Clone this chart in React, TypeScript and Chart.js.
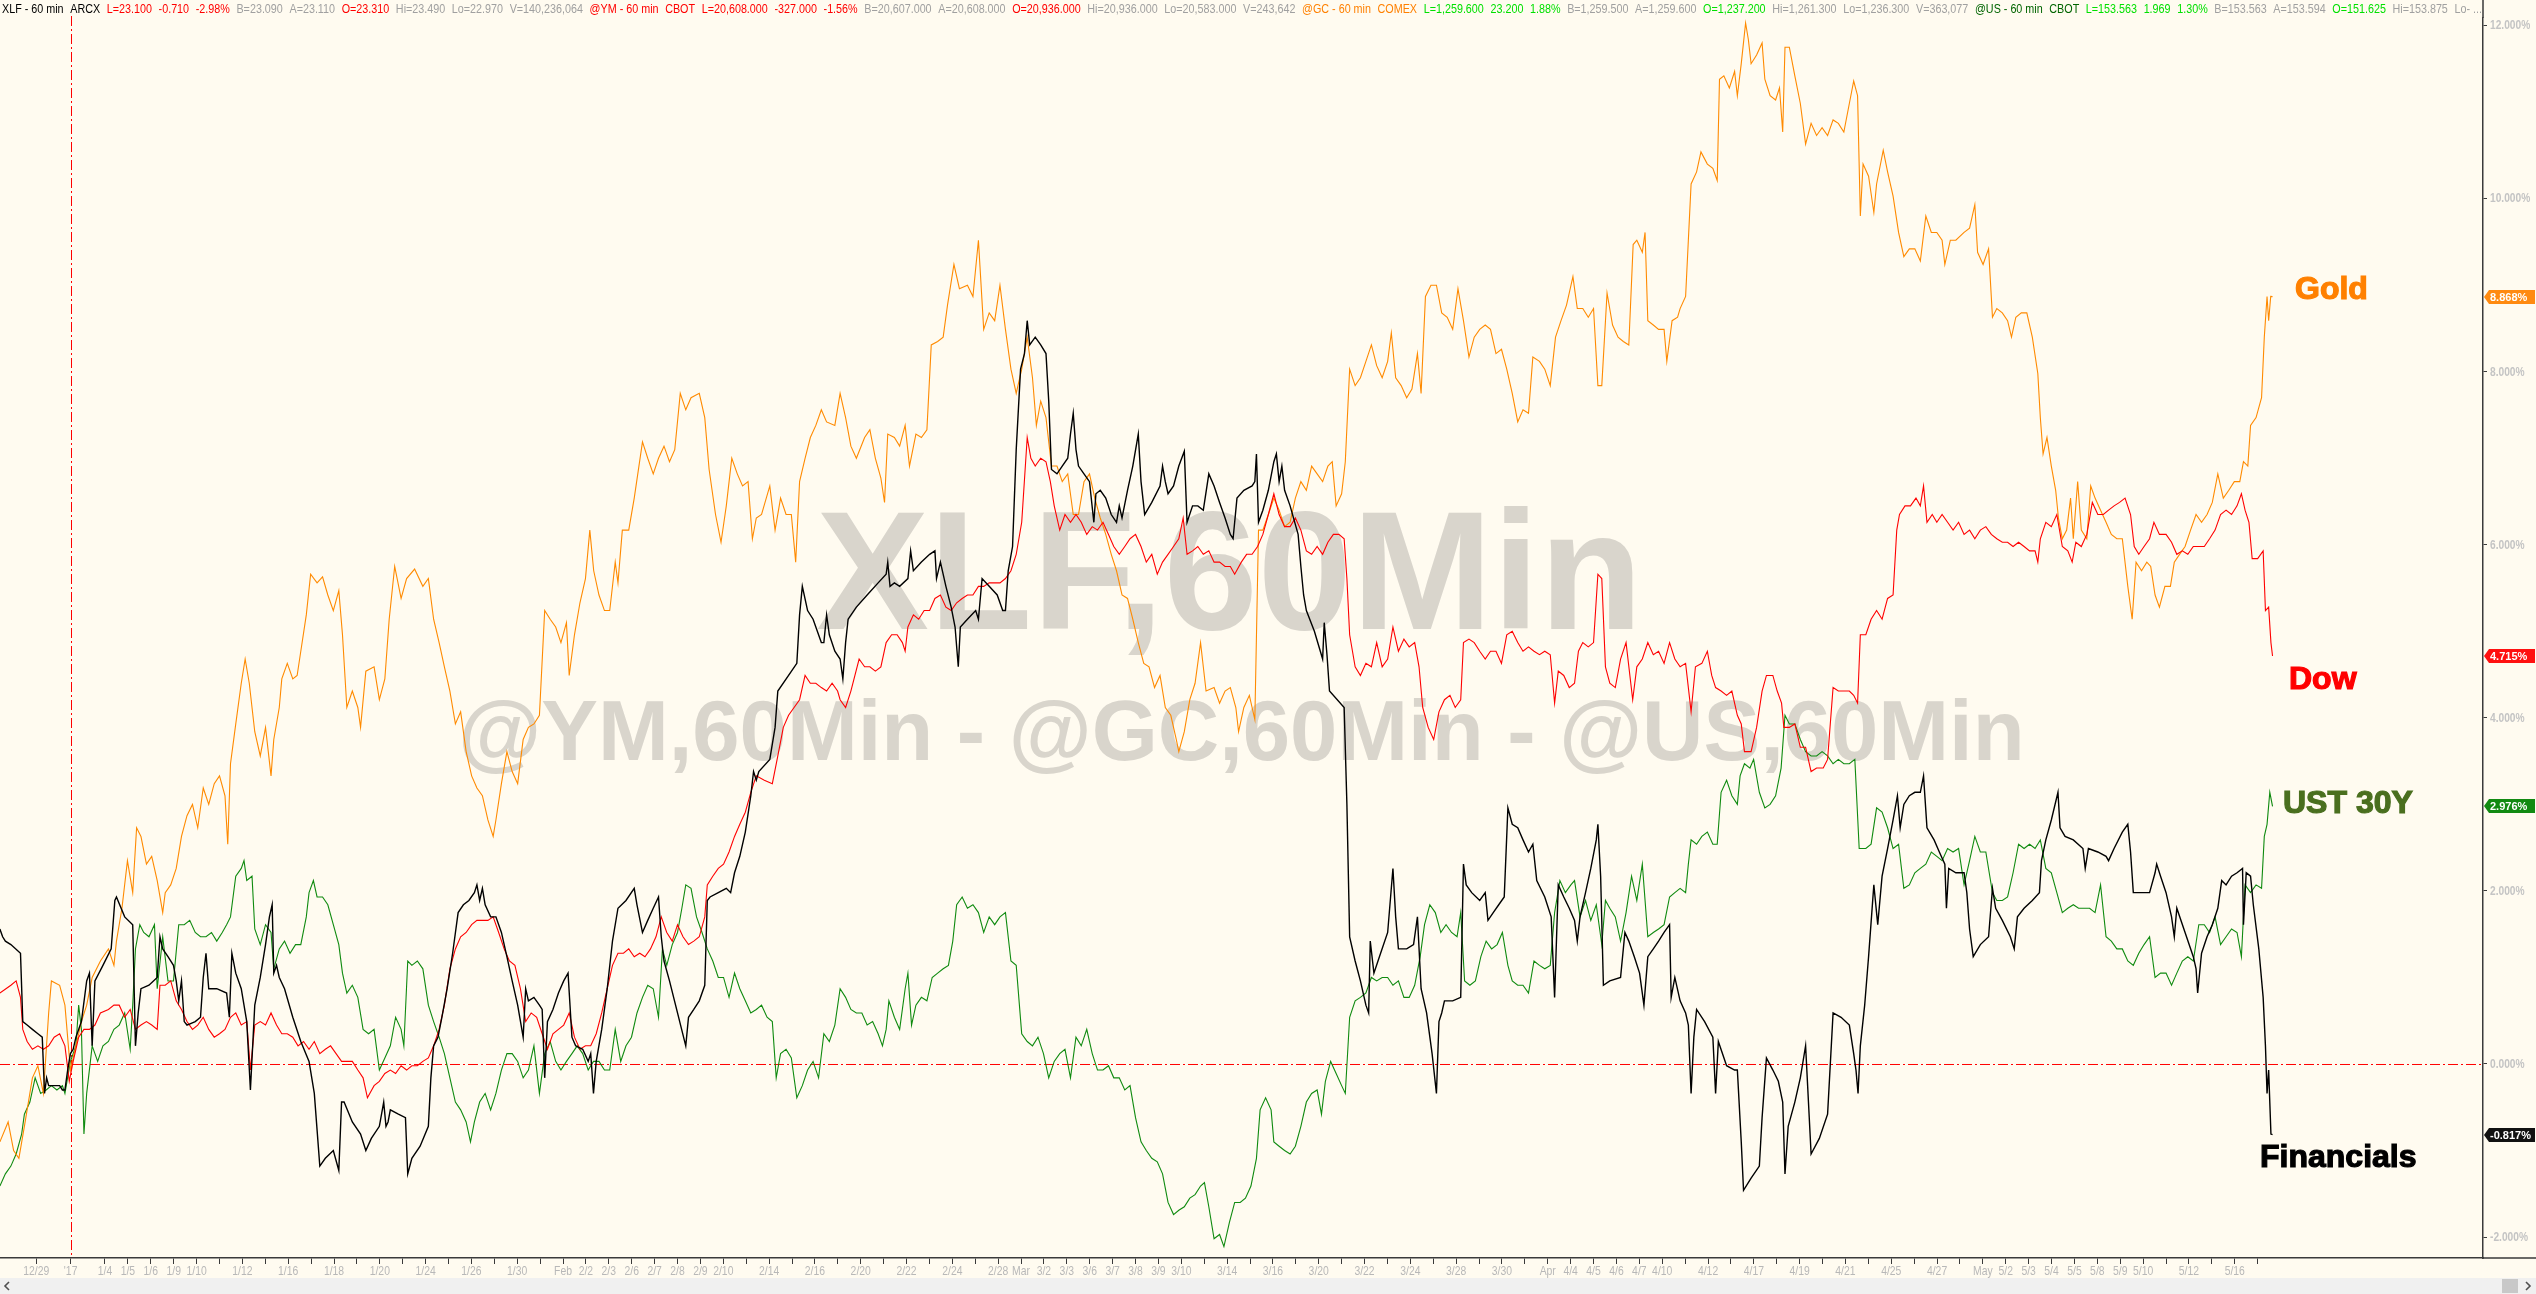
import React, { useEffect, useRef } from "react";
import { Chart, registerables } from "chart.js";
Chart.register(...registerables);

const W = 2536;
const H = 1294;

// ---- Data: x = trading-day index (0 = 2017-01-04), y = % change ----
const xlfT = [-4.59,-4.47,-4.35,-4.11,-3.69,-3.59,-3.40,-3.17,-2.93,-2.74,-2.64,-2.55,-2.46,-2.22,-1.98,-1.86,-1.75,-1.63,-1.51,-1.39,-1.27,-1.03,-0.80,-0.68,-0.56,-0.44,-0.09,0.27,0.43,0.50,0.86,1.21,1.33,1.45,1.57,1.92,2.28,2.40,2.52,2.75,2.99,3.11,3.22,3.34,3.46,3.58,3.94,4.17,4.29,4.41,4.53,4.88,5.31,5.43,5.54,5.71,5.95,6.19,6.35,6.54,6.78,7.01,7.18,7.30,7.37,7.49,7.61,7.84,8.20,8.55,8.91,9.14,9.38,9.62,9.97,10.21,10.33,10.44,10.80,11.16,11.39,11.63,11.98,12.17,12.27,12.36,12.46,12.81,13.12,13.22,13.40,13.76,14.12,14.23,14.35,14.54,14.71,14.94,15.18,15.42,15.65,15.89,16.13,16.24,16.36,16.48,16.60,16.84,17.07,17.31,17.55,17.78,18.02,18.26,18.37,18.49,18.73,18.97,19.09,19.20,19.32,19.56,19.80,20.03,20.22,20.39,20.55,20.86,21.10,21.21,21.33,21.45,21.69,21.93,22.16,22.40,22.75,23.11,23.23,23.47,23.70,23.94,24.17,24.29,24.41,24.65,25.00,25.36,25.48,25.71,25.95,26.19,26.30,26.42,26.78,27.13,27.32,27.49,27.72,27.96,28.20,28.32,28.44,28.55,29.03,29.26,29.38,29.85,30.21,30.33,30.45,30.68,30.92,31.28,31.39,31.51,31.63,31.87,
32.10,32.22,32.34,32.45,32.81,33.28,33.76,34.11,34.18,34.28,34.47,34.70,35.06,35.18,35.30,35.65,36.01,36.24,36.31,36.48,36.72,36.95,37.12,37.26,37.35,37.66,38.02,38.14,38.30,38.61,38.96,39.20,39.32,39.44,39.63,39.79,39.98,40.15,40.27,40.38,40.62,40.86,41.09,41.21,41.33,41.57,41.80,42.04,42.16,42.28,42.40,42.51,42.75,42.99,43.18,43.27,43.46,43.70,43.94,44.17,44.29,44.41,44.65,44.88,45.12,45.24,45.40,45.71,46.07,46.18,46.30,46.42,46.66,46.89,47.13,47.25,47.49,47.72,47.96,48.20,48.43,48.67,48.91,49.14,49.26,49.43,49.73,50.09,50.21,50.28,50.37,50.56,50.80,51.04,51.15,51.27,51.39,51.51,51.75,52.10,52.22,52.34,52.46,52.81,53.17,53.24,53.36,53.47,54.11,54.23,54.35,54.59,54.82,55.06,55.18,55.25,55.41,55.65,56.01,56.24,56.36,56.48,56.84,57.14,57.31,57.47,57.71,57.95,58.14,58.25,58.37,58.49,58.85,59.20,59.32,59.44,59.68,60.03,60.27,60.39,60.62,60.86,61.10,61.26,61.45,61.69,61.92,62.16,62.35,62.52,62.87,63.15,63.30,63.46,63.70,63.94,64.17,64.29,64.41,64.65,64.88,65.12,65.19,65.31,65.43,65.71,66.18,66.37,66.54,66.78,67.01,67.20,67.37,67.61,67.84,68.08,68.32,68.39,68.55,
68.78,69.02,69.14,69.26,69.38,69.50,69.85,70.21,70.33,70.45,70.81,71.16,71.28,71.45,71.55,71.88,72.24,72.36,72.55,72.83,73.07,73.26,73.36,73.50,73.79,74.03,74.26,74.50,74.86,75.22,75.46,75.81,76.17,76.36,76.46,76.55,76.65,76.84,77.01,77.24,77.41,77.60,77.84,78.08,78.27,78.39,78.55,78.79,79.03,79.27,79.41,79.56,79.87,80.10,80.34,80.41,80.51,80.82,81.18,81.30,81.42,81.58,81.89,82.25,82.42,82.56,82.85,83.20,83.37,83.51,83.80,84.16,84.47,84.56,84.75,84.99,85.28,85.37,85.59,85.95,86.37,86.47,86.61,87.02,87.38,87.49,87.73,88.09,88.33,88.45,88.57,88.93,89.28,89.52,89.59,89.76,90.00,90.24,90.36,90.47,90.83,91.19,91.31,91.38,91.55,91.79,92.02,92.26,92.43,92.62,92.86,93.10,93.34,93.38,93.50,93.69,93.81,94.05,94.24,94.34,94.41,94.48,94.58,94.65];
const xlfV = [1.56,1.47,1.42,1.38,1.28,0.49,0.45,0.40,0.35,0.31,-0.34,-0.16,-0.25,-0.25,-0.25,-0.30,-0.30,-0.07,0.12,0.17,0.31,0.49,0.96,1.05,0.21,0.96,1.14,1.33,1.89,1.93,1.70,1.61,0.21,0.59,0.87,0.91,1.00,1.47,1.33,1.24,1.14,0.96,0.73,0.96,0.49,0.45,0.49,0.54,1.00,1.28,0.87,0.87,0.82,0.54,1.28,1.05,0.87,0.49,-0.30,0.68,1.00,1.38,1.70,1.84,1.05,1.14,1.00,0.87,0.54,0.26,0.03,-0.34,-1.18,-1.09,-1.00,-1.23,-0.44,-0.44,-0.67,-0.81,-1.00,-0.86,-0.72,-0.44,-0.72,-0.67,-0.53,-0.58,-0.62,-1.27,-1.09,-0.95,-0.72,-0.16,0.21,0.31,0.54,0.87,1.28,1.75,1.84,1.89,1.98,2.07,1.89,2.03,1.84,1.70,1.70,1.52,1.24,0.96,0.68,0.31,0.87,0.73,0.77,0.68,0.63,-0.16,0.49,0.63,0.82,0.96,1.05,0.31,0.21,0.17,0.03,0.12,-0.34,0.03,0.40,0.87,1.42,1.80,1.89,2.03,1.84,1.52,1.66,1.80,1.93,1.47,1.19,0.96,0.59,0.21,0.54,0.63,0.73,0.91,1.89,1.93,1.98,2.03,1.98,2.21,2.40,2.68,3.10,3.38,3.28,3.38,3.52,3.89,4.31,4.49,4.63,5.19,5.52,5.24,5.14,4.87,4.87,5.19,4.96,4.77,
4.68,4.45,4.87,5.14,5.28,5.42,5.56,5.66,5.80,5.52,5.56,5.52,5.61,5.93,5.70,5.80,5.89,5.93,5.61,5.80,5.52,5.28,5.05,4.59,5.05,5.14,5.24,5.14,5.61,5.52,5.42,5.24,5.24,5.70,5.98,7.10,8.03,8.21,8.59,8.31,8.40,8.31,8.21,7.66,6.87,6.82,6.91,7.00,7.28,7.52,7.10,6.91,6.82,6.73,6.26,6.59,6.63,6.54,6.35,6.26,6.45,6.31,6.63,6.91,7.28,6.73,6.35,6.49,6.68,6.91,6.73,6.59,6.68,6.91,7.08,6.26,6.45,6.45,6.40,6.82,6.68,6.49,6.31,6.12,6.07,6.54,6.63,6.68,6.73,7.05,6.26,6.40,6.63,6.96,7.05,6.73,6.91,6.63,6.45,6.12,5.75,5.42,5.24,5.00,4.68,5.10,4.73,4.31,4.12,3.00,1.47,1.19,0.96,0.68,0.59,1.42,1.05,1.24,1.52,2.26,1.70,1.33,1.33,1.38,1.70,0.87,0.59,0.12,-0.34,0.49,0.59,0.73,0.73,0.77,2.31,2.07,1.98,1.89,1.98,1.66,1.75,1.84,1.93,2.96,2.77,2.73,2.59,2.45,2.54,2.12,1.93,1.70,0.77,2.07,1.93,1.80,1.66,1.42,1.70,1.98,2.26,2.59,2.77,2.17,0.91,0.96,1.00,1.52,1.42,1.24,1.05,0.68,1.24,1.33,1.42,1.52,1.61,0.77,1.00,
0.73,0.59,0.45,-0.34,0.31,0.63,0.49,0.31,-0.34,0.26,-0.02,-0.07,-0.07,-0.90,-1.46,-1.32,-1.18,-0.62,0.07,-0.07,-0.20,-0.44,-1.27,-0.72,-0.44,-0.16,0.21,-1.04,-0.86,-0.58,0.59,0.54,0.45,0.12,-0.07,-0.34,0.21,0.68,1.24,2.07,1.61,2.17,2.49,2.82,3.10,2.73,3.00,3.10,3.14,3.14,3.33,2.73,2.59,2.45,2.31,1.80,2.26,2.21,2.21,1.98,1.56,1.24,1.38,1.47,2.03,1.80,1.66,1.47,1.33,1.70,1.80,1.89,1.98,2.35,2.59,2.82,3.14,2.73,2.63,2.59,2.49,2.26,2.49,2.45,2.40,2.35,2.49,2.68,2.77,2.45,1.98,1.98,1.98,2.21,2.31,2.17,1.98,1.70,1.47,1.80,1.52,1.24,1.10,0.82,1.28,1.47,1.61,1.80,2.12,2.07,2.17,2.21,2.26,1.61,2.21,2.17,1.84,1.33,0.77,0.21,-0.34,-0.07,-0.81,-0.817];

const dowT = [-4.59,-4.11,-3.88,-3.69,-3.59,-3.40,-3.17,-2.93,-2.69,-2.46,-2.22,-1.98,-1.75,-1.56,-1.39,-1.15,-0.92,-0.68,-0.44,-0.20,0.15,0.39,0.62,0.86,1.10,1.33,1.57,1.81,2.04,2.28,2.40,2.63,2.87,3.11,3.34,3.58,3.82,4.05,4.29,4.53,4.77,5.00,5.24,5.48,5.71,5.95,6.19,6.35,6.54,6.78,7.01,7.25,7.49,7.72,7.96,8.20,8.43,8.67,8.91,9.14,9.38,9.62,9.85,10.09,10.33,10.56,10.80,11.04,11.27,11.46,11.75,11.98,12.22,12.46,12.69,12.93,13.17,13.40,13.64,13.88,14.12,14.35,14.59,14.82,15.06,15.30,15.53,15.77,16.01,16.24,16.48,16.72,16.95,17.19,17.43,17.66,17.90,18.14,18.37,18.61,18.85,19.09,19.32,19.56,19.80,20.03,20.27,20.50,20.74,20.98,21.21,21.45,21.69,21.93,22.16,22.40,22.64,22.87,23.11,23.35,23.58,23.82,24.06,24.29,24.53,24.77,25.00,25.24,25.48,25.71,25.95,26.19,26.30,26.54,26.78,27.01,27.25,27.49,27.72,27.96,28.20,28.44,28.79,29.14,29.38,29.62,29.85,30.09,30.33,30.57,30.80,31.04,31.28,31.51,31.75,31.99,
32.10,32.34,32.57,32.93,33.17,33.40,33.64,33.88,34.11,34.35,34.59,34.82,34.94,35.06,35.30,35.53,35.77,36.01,36.24,36.48,36.72,36.95,37.19,37.43,37.66,37.90,38.14,38.37,38.61,38.85,39.08,39.32,39.56,39.79,40.03,40.27,40.43,40.62,40.86,41.09,41.28,41.45,41.69,41.92,42.16,42.40,42.63,42.87,43.11,43.34,43.58,43.82,44.05,44.29,44.53,44.76,45.00,45.24,45.47,45.71,45.95,46.18,46.42,46.66,46.89,47.08,47.25,47.49,47.72,47.96,48.20,48.43,48.67,48.91,49.14,49.33,49.62,49.85,50.09,50.33,50.56,50.80,51.04,51.27,51.51,51.75,51.98,52.22,52.46,52.69,52.93,53.17,53.40,53.64,53.88,54.11,54.23,54.35,54.59,54.82,55.06,55.30,55.53,55.77,56.01,56.24,56.48,56.72,56.95,57.19,57.38,57.54,57.78,58.02,58.25,58.49,58.73,58.96,59.20,59.32,59.56,59.79,60.03,60.27,60.50,60.74,60.98,61.21,61.45,61.69,61.92,62.16,62.40,62.64,62.87,63.11,63.30,63.46,63.70,63.94,64.17,64.34,64.53,64.77,65.00,65.19,65.36,65.52,65.71,65.95,66.18,66.42,66.71,66.89,67.13,67.37,67.61,67.84,68.08,68.32,68.55,
68.78,69.02,69.26,69.45,69.73,69.97,70.16,70.33,70.57,70.81,71.04,71.28,71.45,71.59,71.88,72.12,72.36,72.55,72.83,73.02,73.21,73.31,73.55,73.79,74.03,74.26,74.50,74.74,75.03,75.22,75.46,75.69,75.93,76.17,76.36,76.53,76.65,76.89,77.12,77.36,77.60,77.84,78.08,78.24,78.36,78.60,78.84,79.08,79.27,79.41,79.56,79.79,79.99,80.22,80.46,80.70,80.94,81.18,81.42,81.65,81.89,82.13,82.37,82.61,82.85,83.08,83.32,83.56,83.80,84.04,84.28,84.40,84.51,84.75,84.99,85.23,85.47,85.71,85.90,86.06,86.30,86.54,86.78,87.02,87.26,87.49,87.73,87.97,88.21,88.45,88.61,88.81,89.04,89.28,89.47,89.71,90.00,90.24,90.47,90.71,90.95,91.19,91.43,91.67,91.90,92.14,92.38,92.62,92.86,93.10,93.29,93.45,93.62,93.76,94.00,94.24,94.34,94.48,94.58,94.65];
const dowV = [0.82,0.91,0.96,0.77,0.40,0.26,0.17,0.21,0.17,0.21,0.31,0.35,0.21,-0.20,0.03,0.31,0.40,0.40,0.45,0.59,0.63,0.68,0.68,0.54,0.63,0.40,0.45,0.49,0.45,0.40,0.91,0.91,0.96,0.73,0.63,0.49,0.40,0.45,0.54,0.40,0.31,0.35,0.40,0.54,0.59,0.45,0.49,-0.07,0.45,0.49,0.45,0.59,0.45,0.35,0.35,0.31,0.21,0.26,0.17,0.26,0.12,0.17,0.21,0.12,0.03,0.03,0.03,-0.07,-0.16,-0.39,-0.25,-0.20,-0.11,-0.07,-0.11,-0.02,-0.07,-0.02,-0.02,0.03,0.07,0.21,0.40,0.68,1.10,1.33,1.47,1.52,1.61,1.66,1.66,1.66,1.70,1.52,1.33,1.19,1.14,0.87,0.49,0.59,0.54,0.35,0.17,0.35,0.40,0.45,0.59,0.31,0.17,0.21,0.21,0.35,0.59,0.87,1.14,1.28,1.28,1.33,1.24,1.28,1.24,1.33,1.47,1.70,1.52,1.42,1.61,1.47,1.38,1.42,1.47,1.70,2.07,2.17,2.26,2.31,2.45,2.63,2.77,2.91,3.14,3.33,3.28,3.24,3.56,3.89,4.03,4.12,4.21,4.49,4.40,4.40,4.35,4.31,4.40,4.31,
4.21,4.12,4.31,4.68,4.59,4.59,4.54,4.59,4.87,4.96,4.96,4.87,4.77,5.05,5.19,5.14,5.24,5.24,5.38,5.42,5.28,5.24,5.33,5.38,5.42,5.42,5.52,5.52,5.56,5.56,5.56,5.61,5.70,5.89,6.26,7.24,7.00,6.91,7.00,6.96,6.73,6.45,6.17,6.35,6.26,6.35,6.26,6.12,6.21,6.17,6.26,6.12,5.98,5.89,5.98,6.07,6.12,5.98,5.80,5.89,5.66,5.80,5.89,5.98,6.07,6.31,5.89,5.93,5.98,5.89,5.93,5.80,5.80,5.75,5.75,5.66,5.80,5.89,5.89,5.98,6.12,6.35,6.59,6.35,6.21,6.21,6.31,6.17,5.93,5.89,5.98,5.89,6.03,6.12,6.12,6.07,5.61,4.96,4.59,4.49,4.63,4.59,4.87,4.59,4.68,5.05,4.77,4.91,4.82,4.87,4.59,4.12,3.89,3.75,4.07,4.21,4.26,4.12,4.21,4.87,4.91,4.87,4.77,4.68,4.77,4.77,4.63,4.96,5.00,4.87,4.77,4.82,4.77,4.73,4.77,4.73,4.17,4.54,4.49,4.35,4.40,4.77,4.87,4.82,4.87,5.66,5.61,4.59,4.40,4.35,4.68,4.87,4.21,4.59,4.68,4.87,4.73,4.77,4.63,4.87,4.68,
4.59,4.63,4.07,4.59,4.63,4.77,4.49,4.35,4.31,4.26,4.31,4.03,3.93,3.61,3.61,3.89,4.31,4.49,4.49,4.31,4.17,3.89,3.89,3.93,3.66,3.66,3.38,3.42,3.42,3.52,4.35,4.31,4.31,4.31,4.26,4.17,4.96,4.96,5.14,5.24,5.14,5.38,5.42,6.17,6.35,6.45,6.45,6.54,6.45,6.68,6.26,6.35,6.26,6.35,6.26,6.17,6.26,6.12,6.17,6.07,6.17,6.21,6.12,6.07,6.03,6.03,5.98,6.03,5.98,5.93,5.93,5.80,6.07,6.26,6.21,6.35,5.98,5.93,5.80,6.03,5.98,6.12,6.49,6.35,6.35,6.40,6.45,6.49,6.54,6.35,5.98,5.89,5.98,6.07,6.26,6.12,6.12,6.03,5.89,5.93,5.89,5.98,5.98,5.98,6.07,6.17,6.35,6.40,6.35,6.45,6.59,6.40,6.26,5.84,5.84,5.93,5.24,5.28,4.87,4.715];

const goldT = [-4.59,-4.23,-3.99,-3.76,-3.52,-3.17,-2.93,-2.69,-2.46,-2.34,-1.98,-1.75,-1.51,-1.27,-1.03,-0.80,-0.56,-0.20,0.15,0.39,0.50,0.74,0.98,1.21,1.38,1.57,1.81,2.04,2.28,2.52,2.63,2.87,3.11,3.34,3.58,3.82,4.05,4.29,4.53,4.77,5.00,5.24,5.36,5.48,5.71,5.95,6.12,6.30,6.54,6.78,7.01,7.25,7.37,7.61,7.72,7.96,8.20,8.39,8.55,8.79,8.98,9.26,9.50,9.73,9.97,10.21,10.37,10.56,10.80,11.04,11.16,11.39,11.75,11.98,12.22,12.41,12.65,12.93,13.17,13.52,13.88,14.12,14.35,14.59,14.82,15.06,15.30,15.53,15.77,16.01,16.24,16.48,16.72,16.95,17.07,17.31,17.55,17.78,18.02,18.26,18.49,18.73,18.97,19.20,19.44,19.68,19.91,20.15,20.27,20.50,20.74,20.98,21.17,21.34,21.57,21.81,22.04,22.28,22.40,22.59,22.87,23.11,23.47,23.70,23.94,24.17,24.41,24.65,24.88,25.12,25.36,25.59,25.95,26.19,26.38,26.66,26.90,27.13,27.37,27.61,27.84,28.08,28.27,28.44,28.67,29.03,29.26,29.50,29.74,29.97,30.16,30.33,30.57,30.80,31.04,31.28,31.51,31.87,
32.10,32.34,32.57,32.81,33.17,33.40,33.64,33.88,34.04,34.18,34.47,34.70,34.94,35.13,35.41,35.65,35.89,36.08,36.36,36.60,36.79,37.07,37.31,37.66,37.90,38.14,38.37,38.61,38.85,39.08,39.32,39.56,39.79,40.03,40.27,40.50,40.67,40.86,41.09,41.33,41.57,41.80,42.04,42.28,42.51,42.75,42.99,43.22,43.46,43.70,43.94,44.17,44.41,44.65,44.88,45.12,45.36,45.59,45.83,46.07,46.30,46.54,46.78,46.89,47.13,47.37,47.60,47.84,48.08,48.43,48.67,48.91,49.14,49.38,49.50,49.73,49.97,50.21,50.37,50.56,50.80,51.04,51.27,51.51,51.75,51.98,52.22,52.46,52.69,52.93,53.17,53.40,53.59,53.76,54.00,54.16,54.35,54.59,54.82,55.06,55.30,55.53,55.77,56.01,56.17,56.36,56.60,56.84,57.07,57.31,57.47,57.66,57.90,58.14,58.37,58.61,58.85,59.08,59.32,59.56,59.79,60.03,60.27,60.50,60.74,60.98,61.21,61.45,61.69,61.92,62.16,62.35,62.64,62.87,63.11,63.34,63.58,63.82,64.10,64.29,64.53,64.77,65.00,65.19,65.36,65.59,65.83,66.07,66.30,66.54,66.73,66.89,67.13,67.25,67.37,67.61,67.84,68.08,68.20,68.43,68.67,
68.78,69.02,69.14,69.26,69.50,69.69,69.97,70.21,70.40,70.50,70.69,70.93,71.16,71.28,71.45,71.64,71.76,71.88,72.12,72.36,72.48,72.71,72.95,73.12,73.26,73.36,73.55,73.79,74.03,74.26,74.50,74.74,74.98,75.22,75.46,75.69,75.93,76.17,76.36,76.53,76.65,76.77,77.01,77.24,77.36,77.65,77.84,78.08,78.32,78.55,78.79,79.03,79.27,79.51,79.75,79.99,80.22,80.34,80.58,80.82,81.18,81.42,81.65,81.77,82.01,82.25,82.42,82.61,82.85,83.08,83.25,83.44,83.68,83.92,84.16,84.40,84.51,84.63,84.80,84.99,85.18,85.30,85.47,85.66,85.83,85.95,86.14,86.30,86.54,86.71,86.90,87.14,87.38,87.61,87.85,88.09,88.33,88.52,88.69,88.93,89.16,89.33,89.52,89.71,89.95,90.19,90.36,90.59,90.83,91.07,91.31,91.55,91.79,92.02,92.26,92.50,92.74,92.98,93.22,93.38,93.57,93.69,93.93,94.17,94.29,94.41,94.48,94.57,94.65];
const goldV = [-0.90,-0.67,-1.00,-1.09,-0.72,-0.16,-0.02,-0.34,0.59,0.96,0.91,0.68,-0.07,0.21,0.49,0.68,1.00,1.19,1.33,1.14,1.42,1.80,2.35,1.98,2.73,2.63,2.31,2.40,2.12,1.75,1.98,2.07,2.26,2.63,2.87,3.00,2.73,3.19,3.00,3.24,3.33,3.10,2.54,3.47,3.93,4.40,4.68,4.40,3.84,3.56,3.89,3.33,3.75,4.12,4.45,4.63,4.45,4.49,4.77,5.19,5.66,5.56,5.63,5.42,5.24,5.47,4.96,4.12,4.31,4.12,3.89,4.54,4.59,4.21,4.45,5.14,5.75,5.38,5.61,5.72,5.52,5.61,5.14,4.87,4.59,4.31,3.93,4.07,3.61,3.33,3.19,3.10,2.82,2.63,2.82,3.24,3.61,3.38,3.24,3.75,3.89,3.93,4.03,5.24,5.14,5.05,4.87,5.10,4.49,4.96,5.33,5.61,6.17,5.70,5.42,5.24,5.24,5.80,5.56,6.17,6.17,6.54,7.19,7.00,6.82,7.00,7.14,6.96,7.10,7.75,7.56,7.70,7.75,7.47,6.87,6.35,6.03,6.45,7.00,6.82,6.68,6.73,6.07,6.31,6.35,6.68,6.17,6.54,6.35,6.35,5.80,6.73,7.00,7.24,7.38,7.56,7.42,7.38,
7.75,7.47,7.14,7.00,7.24,7.33,7.00,6.77,6.49,7.28,7.24,7.14,7.38,6.91,7.28,7.24,7.33,8.31,8.35,8.40,8.77,9.24,8.96,9.00,8.87,9.52,8.49,8.68,8.59,9.00,8.49,8.03,7.75,8.03,8.40,7.93,7.38,7.66,7.47,6.91,6.91,6.73,6.82,6.35,6.35,6.73,6.82,6.54,6.31,6.12,5.89,5.70,5.42,5.38,5.14,4.87,4.63,4.59,4.35,4.49,4.12,4.03,3.75,3.61,3.84,4.21,4.40,4.87,4.31,4.35,4.17,4.31,4.35,4.12,3.84,4.12,4.26,3.98,6.17,6.17,6.35,6.54,6.40,6.21,6.26,6.54,6.73,6.63,6.91,6.82,6.73,6.91,6.96,6.45,6.59,6.96,8.03,7.84,7.93,8.12,8.31,8.07,7.93,8.12,8.45,7.93,7.84,7.70,7.80,8.21,7.75,8.87,9.00,9.00,8.68,8.63,8.49,8.96,8.59,8.17,8.40,8.49,8.54,8.49,8.21,8.26,8.03,7.75,7.42,7.56,7.52,8.17,8.12,8.03,7.84,8.40,8.59,8.77,9.10,8.73,8.73,8.63,8.73,7.84,7.84,8.91,8.54,8.40,8.35,8.31,9.47,9.52,9.38,9.61,8.59,8.54,8.49,8.49,8.12,8.59,8.63,
8.73,8.87,9.52,10.17,10.31,10.54,10.40,10.35,10.21,11.38,11.42,11.28,11.47,11.19,11.56,12.03,11.84,11.56,11.66,11.80,11.38,11.19,11.14,11.28,10.77,11.75,11.75,11.42,11.10,10.63,10.87,10.73,10.82,10.73,10.91,10.87,10.77,11.10,11.36,11.19,9.80,10.40,10.26,9.84,10.17,10.56,10.31,10.03,9.61,9.33,9.42,9.42,9.28,9.80,9.61,9.61,9.52,9.24,9.52,9.52,9.61,9.66,9.93,9.38,9.24,9.42,8.63,8.73,8.68,8.59,8.40,8.63,8.68,8.68,8.40,7.98,7.47,7.05,7.24,6.91,6.63,6.31,6.07,6.17,6.54,6.07,6.73,6.17,6.07,6.68,6.54,6.40,6.26,6.12,6.07,6.07,5.52,5.14,5.80,5.70,5.80,5.75,5.42,5.28,5.52,5.52,5.80,5.89,5.98,6.17,6.35,6.26,6.35,6.49,6.82,6.54,6.63,6.73,6.73,6.96,6.91,7.38,7.47,7.70,8.40,8.87,8.59,8.87,8.868];

const ustT = [-4.59,-4.35,-4.11,-3.88,-3.64,-3.52,-3.28,-3.05,-2.81,-2.57,-2.34,-2.10,-1.86,-1.75,-1.51,-1.27,-1.15,-1.03,-0.92,-0.80,-0.56,-0.32,-0.09,0.15,0.39,0.62,0.86,1.10,1.21,1.33,1.52,1.69,1.92,2.16,2.28,2.52,2.75,2.99,3.22,3.46,3.70,3.94,4.17,4.41,4.65,4.88,5.12,5.31,5.48,5.71,5.95,6.07,6.19,6.42,6.54,6.78,7.01,7.25,7.37,7.61,7.84,8.08,8.32,8.55,8.79,8.91,9.10,9.26,9.50,9.73,9.97,10.21,10.37,10.56,10.80,11.04,11.27,11.51,11.75,11.98,12.22,12.46,12.69,12.93,13.05,13.22,13.40,13.64,13.88,14.12,14.35,14.59,14.82,15.06,15.30,15.53,15.77,15.96,16.13,16.36,16.60,16.84,17.07,17.31,17.55,17.78,18.02,18.26,18.49,18.73,18.97,19.20,19.44,19.68,19.91,20.15,20.39,20.62,20.86,21.10,21.33,21.57,21.81,22.04,22.28,22.52,22.75,22.99,23.23,23.47,23.70,23.94,24.17,24.34,24.53,24.77,25.00,25.19,25.36,25.59,25.83,26.07,26.30,26.54,26.78,27.01,27.25,27.49,27.72,27.96,28.20,28.44,28.67,28.91,29.14,29.31,29.50,29.74,29.97,30.21,30.45,30.68,30.92,31.16,31.39,31.63,31.87,
32.10,32.34,32.57,32.81,33.05,33.28,33.52,33.76,33.95,34.11,34.23,34.47,34.70,34.94,35.06,35.22,35.41,35.65,35.89,36.12,36.36,36.60,36.83,37.02,37.19,37.43,37.66,37.90,38.14,38.37,38.61,38.85,39.08,39.32,39.56,39.79,40.03,40.27,40.50,40.74,40.98,41.21,41.45,41.69,41.92,42.16,42.40,42.63,42.87,43.11,43.34,43.58,43.82,44.05,44.29,44.53,44.76,45.00,45.24,45.47,45.71,45.95,46.18,46.42,46.66,46.89,47.13,47.37,47.60,47.84,48.01,48.20,48.43,48.67,48.86,49.10,49.33,49.57,49.80,50.04,50.28,50.44,50.68,50.92,51.04,51.27,51.51,51.75,51.98,52.22,52.46,52.69,52.93,53.12,53.29,53.52,53.76,54.00,54.16,54.35,54.59,54.82,55.06,55.30,55.53,55.77,56.01,56.24,56.48,56.72,56.95,57.19,57.43,57.62,57.85,58.09,58.33,58.56,58.80,59.04,59.20,59.37,59.60,59.84,60.08,60.31,60.55,60.79,61.02,61.26,61.45,61.69,61.92,62.16,62.40,62.64,62.87,63.11,63.30,63.53,63.77,64.01,64.17,64.41,64.65,64.88,65.12,65.36,65.52,65.71,65.95,66.18,66.42,66.66,66.89,67.13,67.37,67.61,67.84,68.08,68.32,68.55,
68.78,69.02,69.14,69.26,69.50,69.73,69.97,70.21,70.40,70.57,70.81,71.04,71.28,71.40,71.59,71.83,71.99,72.24,72.48,72.71,72.95,73.19,73.36,73.55,73.79,74.03,74.26,74.50,74.74,74.98,75.22,75.46,75.69,75.93,76.17,76.41,76.60,76.89,77.12,77.36,77.60,77.84,78.08,78.32,78.55,78.79,79.03,79.27,79.51,79.75,79.99,80.22,80.46,80.70,80.94,81.18,81.42,81.65,81.89,82.13,82.42,82.61,82.85,83.08,83.32,83.56,83.80,84.04,84.28,84.51,84.75,84.99,85.23,85.47,85.71,85.95,86.18,86.42,86.66,86.90,87.14,87.38,87.61,87.85,88.09,88.33,88.57,88.81,89.04,89.28,89.52,89.76,90.00,90.24,90.47,90.71,90.95,91.19,91.43,91.67,91.90,92.14,92.38,92.62,92.86,93.10,93.29,93.45,93.69,93.93,94.17,94.29,94.41,94.53,94.65];
const ustV = [-1.41,-1.27,-1.18,-1.04,-0.81,-0.58,-0.44,-0.16,-0.34,-0.30,-0.25,-0.30,-0.25,-0.34,0.03,0.21,0.68,0.40,-0.81,-0.34,0.21,0.03,0.21,0.26,0.40,0.45,0.59,0.17,0.68,1.33,1.61,1.52,1.47,1.61,0.87,1.47,0.96,0.96,1.61,1.61,1.66,1.52,1.47,1.47,1.52,1.42,1.52,1.61,1.70,2.17,2.26,2.35,2.12,2.17,1.56,1.38,1.61,1.52,1.10,1.33,1.42,1.28,1.38,1.38,1.70,1.98,2.12,1.93,1.93,1.84,1.61,1.38,1.05,0.82,0.91,0.77,0.40,0.35,0.40,-0.07,0.07,0.21,0.54,0.40,0.21,1.19,1.14,1.19,1.10,0.68,0.49,0.31,0.12,-0.16,-0.44,-0.53,-0.67,-0.90,-0.67,-0.44,-0.34,-0.53,-0.34,-0.07,0.12,0.12,0.03,-0.16,-0.07,0.21,-0.34,0.12,0.26,0.03,-0.07,0.03,0.12,0.21,0.12,-0.07,0.03,0.03,-0.07,-0.07,0.40,0.03,0.21,0.31,0.59,0.77,0.91,0.87,0.54,1.33,1.14,1.38,1.52,1.80,2.07,2.03,1.70,1.52,1.33,1.19,1.00,1.00,0.77,1.05,0.87,0.73,0.59,0.63,0.68,0.54,0.49,-0.16,0.12,0.17,0.07,-0.39,-0.25,-0.07,0.03,-0.16,0.35,0.26,0.45,
0.87,0.77,0.63,0.59,0.59,0.45,0.49,0.35,0.21,0.40,0.73,0.54,0.40,0.87,1.05,0.45,0.68,0.77,0.73,1.00,1.05,1.10,1.14,1.42,1.84,1.93,1.80,1.84,1.75,1.52,1.70,1.61,1.70,1.75,1.19,1.14,0.35,0.26,0.21,0.31,0.12,-0.16,0.03,0.12,0.17,-0.16,0.31,0.21,0.40,0.12,-0.07,-0.07,-0.02,-0.16,-0.16,-0.30,-0.25,-0.62,-0.90,-1.00,-1.09,-1.13,-1.27,-1.60,-1.74,-1.69,-1.65,-1.55,-1.51,-1.41,-1.37,-1.65,-2.02,-1.97,-2.11,-1.83,-1.60,-1.60,-1.55,-1.41,-1.09,-0.53,-0.39,-0.53,-0.90,-0.95,-1.00,-1.04,-0.95,-0.72,-0.44,-0.34,-0.30,-0.58,-0.20,0.03,-0.11,-0.25,-0.34,0.54,0.73,0.77,0.82,1.00,0.96,1.00,1.00,0.91,0.96,0.77,0.77,0.91,1.24,1.61,1.84,1.75,1.52,1.61,1.52,1.47,1.75,0.96,0.91,0.96,1.24,1.42,1.33,1.38,1.52,1.14,0.96,0.91,0.91,0.82,1.19,1.14,1.10,1.14,1.75,2.12,1.98,2.07,2.12,1.70,1.89,1.66,1.84,1.38,1.89,1.80,1.70,1.42,1.75,2.17,1.89,2.31,1.47,1.52,1.56,1.61,1.93,1.98,
2.03,1.98,2.31,2.59,2.54,2.63,2.68,2.54,2.54,3.14,3.28,3.10,3.00,3.33,3.47,3.42,3.52,3.14,2.96,3.00,3.10,3.42,4.03,3.93,3.93,3.75,3.61,3.56,3.56,3.61,3.56,3.47,3.52,3.47,3.47,3.52,2.49,2.49,2.54,2.96,2.91,2.73,2.49,2.54,2.03,2.07,2.21,2.26,2.31,2.45,2.40,2.35,2.49,2.45,2.49,2.07,2.35,2.63,2.45,2.45,1.98,1.89,1.89,1.93,2.21,2.54,2.49,2.54,2.49,2.59,2.26,2.21,1.98,1.75,1.80,1.84,1.80,1.80,1.80,1.75,2.07,1.47,1.42,1.33,1.33,1.19,1.14,1.28,1.38,1.47,1.00,1.05,1.05,0.91,1.05,1.19,1.24,1.19,1.61,1.61,1.52,1.70,1.38,1.47,1.56,1.52,1.24,2.07,1.98,2.07,2.03,2.63,2.77,3.14,2.976];

// ---- Axis ticks / labels ----
const yTickValues = [-2, 0, 2, 4, 6, 8, 10, 12];
const firstDay = -3;
const dayLabels = ["12/29","","","1/4","1/5","1/6","1/9","1/10","","1/12","","1/16","","1/18","","1/20","","1/24","","1/26","","1/30","","Feb","2/2","2/3","2/6","2/7","2/8","2/9","2/10","","2/14","","2/16","","2/20","","2/22","","2/24","","2/28","Mar","3/2","3/3","3/6","3/7","3/8","3/9","3/10","","3/14","","3/16","","3/20","","3/22","","3/24","","3/28","","3/30","","Apr","4/4","4/5","4/6","4/7","4/10","","4/12","","4/17","","4/19","","4/21","","4/25","","4/27","","May","5/2","5/3","5/4","5/5","5/8","5/9","5/10","","5/12","","5/16",""];
const skipDays = [-2, -1]; // no tick marks drawn for these
const yearMarkDay = -1.5;
const yearMarkLabel = "'17";

const header: [string, string][] = [
  ["XLF - 60 min", "#000000"], ["ARCX", "#000000"], ["L=23.100", "#ff0000"], ["-0.710", "#ff0000"], ["-2.98%", "#ff0000"],
  ["B=23.090", "#a0a0a0"], ["A=23.110", "#a0a0a0"], ["O=23.310", "#ff0000"], ["Hi=23.490", "#a0a0a0"], ["Lo=22.970", "#a0a0a0"], ["V=140,236,064", "#a0a0a0"],
  ["@YM - 60 min", "#ff0000"], ["CBOT", "#ff0000"], ["L=20,608.000", "#ff0000"], ["-327.000", "#ff0000"], ["-1.56%", "#ff0000"],
  ["B=20,607.000", "#a0a0a0"], ["A=20,608.000", "#a0a0a0"], ["O=20,936.000", "#ff0000"], ["Hi=20,936.000", "#a0a0a0"], ["Lo=20,583.000", "#a0a0a0"], ["V=243,642", "#a0a0a0"],
  ["@GC - 60 min", "#ff8000"], ["COMEX", "#ff8000"], ["L=1,259.600", "#00e000"], ["23.200", "#00e000"], ["1.88%", "#00e000"],
  ["B=1,259.500", "#a0a0a0"], ["A=1,259.600", "#a0a0a0"], ["O=1,237.200", "#00e000"], ["Hi=1,261.300", "#a0a0a0"], ["Lo=1,236.300", "#a0a0a0"], ["V=363,077", "#a0a0a0"],
  ["@US - 60 min", "#006400"], ["CBOT", "#006400"], ["L=153.563", "#00e000"], ["1.969", "#00e000"], ["1.30%", "#00e000"],
  ["B=153.563", "#a0a0a0"], ["A=153.594", "#a0a0a0"], ["O=151.625", "#00e000"], ["Hi=153.875", "#a0a0a0"], ["Lo- ...", "#a0a0a0"],
];

const SANS = "'Liberation Sans', Arial, sans-serif";

// draws horizontally condensed text
function narrowText(ctx: any, text: string, x: number, y: number, squeeze: number, align: "left" | "center") {
  const w = ctx.measureText(text).width * squeeze;
  const x0 = align === "center" ? x - w / 2 : x;
  ctx.save();
  ctx.translate(x0, y);
  ctx.scale(squeeze, 1);
  ctx.textAlign = "left";
  ctx.fillText(text, 0, 0);
  ctx.restore();
}

export default function App() {
  const ref = useRef<HTMLCanvasElement>(null);

  useEffect(() => {
    document.body.style.margin = "0";
    document.body.style.overflow = "hidden";
    const canvas = ref.current!;
    const mk = (t: number[], v: number[]) => t.map((x, i) => ({ x, y: v[i] }));

    const series = [
      { name: "Financials", t: xlfT, v: xlfV, line: "#000000", width: 1.4, badge: "#111111", textColor: "#000000", lx: 2260, ly: 1167 },
      { name: "Dow", t: dowT, v: dowV, line: "#ff0000", width: 1.1, badge: "#ff1010", textColor: "#ff0000", lx: 2289, ly: 689 },
      { name: "Gold", t: goldT, v: goldV, line: "#ff8a00", width: 1.1, badge: "#ff8a10", textColor: "#ff8000", lx: 2295, ly: 299 },
      { name: "UST 30Y", t: ustT, v: ustV, line: "#0f8a0f", width: 1.1, badge: "#128a12", textColor: "#4a6f1f", lx: 2283, ly: 813 },
    ];

    const tickValues = [firstDay, yearMarkDay, ...dayLabels.map((_, i) => i + firstDay).filter((d) => d !== firstDay && !skipDays.includes(d))];
    const labelFor = (v: number) => (v === yearMarkDay ? yearMarkLabel : dayLabels[Math.round(v) - firstDay] ?? "");

    const deco = {
      id: "deco",
      beforeDraw(chart: any) {
        const ctx = chart.ctx;
        ctx.save();
        ctx.fillStyle = "#fffbf0";
        ctx.fillRect(0, 0, W, H);
        ctx.restore();
      },
      beforeDatasetsDraw(chart: any) {
        const ctx = chart.ctx;
        const a = chart.chartArea;
        const cx = (a.left + a.right) / 2;
        ctx.save();
        ctx.fillStyle = "rgb(217,213,204)";
        ctx.textAlign = "center";
        ctx.textBaseline = "alphabetic";
        ctx.font = `bold 169px ${SANS}`;
        ctx.fillText("XLF,60Min", cx - 12, 629);
        ctx.font = `bold 85px ${SANS}`;
        ctx.fillText("@YM,60Min - @GC,60Min - @US,60Min", cx, 760);
        // zero line
        const y0 = chart.scales.y.getPixelForValue(0);
        ctx.strokeStyle = "#ff0000";
        ctx.lineWidth = 1;
        ctx.setLineDash([10, 3, 2, 3]);
        ctx.beginPath();
        ctx.moveTo(a.left, y0 + 0.5);
        ctx.lineTo(a.right, y0 + 0.5);
        ctx.stroke();
        // year boundary
        const xy = Math.round(chart.scales.x.getPixelForValue(yearMarkDay)) + 0.5;
        ctx.beginPath();
        ctx.moveTo(xy, a.top - 2);
        ctx.lineTo(xy, a.bottom);
        ctx.stroke();
        ctx.restore();
      },
      afterDatasetsDraw(chart: any) {
        const ctx = chart.ctx;
        ctx.save();
        ctx.font = `bold 32px ${SANS}`;
        ctx.textBaseline = "alphabetic";
        ctx.textAlign = "left";
        for (const s of series) {
          ctx.fillStyle = s.textColor;
          ctx.strokeStyle = s.textColor;
          ctx.lineWidth = 1.2;
          ctx.fillText(s.name, s.lx, s.ly);
          ctx.strokeText(s.name, s.lx, s.ly);
        }
        ctx.restore();
      },
      afterDraw(chart: any) {
        const ctx = chart.ctx;
        const a = chart.chartArea;
        const xs = chart.scales.x;
        const ys = chart.scales.y;
        ctx.save();
        // axis extensions
        ctx.strokeStyle = "#3a3a3a";
        ctx.lineWidth = 1.5;
        ctx.beginPath();
        ctx.moveTo(a.right, 0);
        ctx.lineTo(a.right, a.top);
        ctx.moveTo(a.right, a.bottom);
        ctx.lineTo(W, a.bottom);
        ctx.stroke();
        // x tick labels (condensed)
        ctx.font = `13px ${SANS}`;
        ctx.fillStyle = "#b8b8b8";
        ctx.textBaseline = "alphabetic";
        for (const v of tickValues) {
          const lab = labelFor(v);
          if (lab) narrowText(ctx, lab, xs.getPixelForValue(v), a.bottom + 17, 0.8, "center");
        }
        // y tick labels (condensed)
        ctx.font = `bold 12px ${SANS}`;
        ctx.fillStyle = "#c4c4c4";
        ctx.textBaseline = "middle";
        for (const v of yTickValues) {
          narrowText(ctx, v.toFixed(3) + "%", a.right + 7, ys.getPixelForValue(v) + 0.5, 0.85, "left");
        }
        // header
        ctx.font = `13px ${SANS}`;
        ctx.textBaseline = "alphabetic";
        ctx.textAlign = "left";
        const gap = 8;
        let total = 0;
        header.forEach(([t], i) => { total += ctx.measureText(t).width + (i ? gap : 0); });
        const sx = (a.right - 3) / total;
        let x = 2;
        for (let i = 0; i < header.length; i++) {
          const [t, c] = header[i];
          ctx.fillStyle = c;
          ctx.save();
          ctx.translate(x, 12.5);
          ctx.scale(sx, 1);
          ctx.fillText(t, 0, 0);
          ctx.restore();
          x += (ctx.measureText(t).width + gap) * sx;
        }
        // value badges
        ctx.font = `bold 11px ${SANS}`;
        ctx.textBaseline = "middle";
        for (const s of series) {
          const last = s.v[s.v.length - 1];
          const yc = Math.round(ys.getPixelForValue(last));
          const x0 = a.right + 1;
          ctx.fillStyle = s.badge;
          ctx.beginPath();
          ctx.moveTo(x0, yc);
          ctx.lineTo(x0 + 5, yc - 7);
          ctx.lineTo(W - 1, yc - 7);
          ctx.lineTo(W - 1, yc + 7);
          ctx.lineTo(x0 + 5, yc + 7);
          ctx.closePath();
          ctx.fill();
          ctx.fillStyle = "#ffffff";
          ctx.fillText(last.toFixed(3) + "%", x0 + 6, yc + 0.5);
        }
        // scrollbar strip
        ctx.fillStyle = "#f0f0f0";
        ctx.fillRect(0, 1278, W, H - 1278);
        ctx.fillStyle = "#c8c8c8";
        ctx.fillRect(2502, 1279, 16, 14);
        ctx.strokeStyle = "#505050";
        ctx.lineWidth = 1.6;
        ctx.beginPath();
        ctx.moveTo(9, 1282); ctx.lineTo(5, 1286); ctx.lineTo(9, 1290);
        ctx.moveTo(2526, 1282); ctx.lineTo(2530, 1286); ctx.lineTo(2526, 1290);
        ctx.stroke();
        ctx.restore();
      },
    };

    const chart = new Chart(canvas, {
      type: "line",
      data: {
        datasets: series.map((s) => ({
          label: s.name,
          data: mk(s.t, s.v),
          borderColor: s.line,
          borderWidth: s.width,
          pointRadius: 0,
          tension: 0,
          fill: false,
        })),
      },
      options: {
        responsive: false,
        animation: false,
        devicePixelRatio: 1,
        layout: { padding: { top: 18, left: 0, right: 0, bottom: 0 } },
        plugins: { legend: { display: false }, tooltip: { enabled: false }, title: { display: false } },
        events: [],
        scales: {
          x: {
            type: "linear",
            position: "bottom",
            min: -4.585,
            max: 103.84,
            afterBuildTicks: (scale: any) => {
              scale.ticks = tickValues.map((v) => ({ value: v }));
            },
            afterFit: (scale: any) => {
              scale.height = 36;
            },
            border: { display: true, color: "#3a3a3a", width: 1.5 },
            grid: { display: true, drawOnChartArea: false, drawTicks: true, tickLength: 6, color: "#3a3a3a", lineWidth: 1 },
            ticks: {
              autoSkip: false,
              maxRotation: 0,
              minRotation: 0,
              color: "rgba(0,0,0,0)",
              font: { family: SANS, size: 12 },
              callback: (v: any) => labelFor(v),
            },
          },
          y: {
            type: "linear",
            position: "right",
            min: -2.242,
            max: 12.088,
            afterBuildTicks: (scale: any) => {
              scale.ticks = yTickValues.map((v) => ({ value: v }));
            },
            afterFit: (scale: any) => {
              scale.width = 53;
            },
            border: { display: true, color: "#3a3a3a", width: 1.5 },
            grid: { display: true, drawOnChartArea: false, drawTicks: true, tickLength: 4, color: "#3a3a3a", lineWidth: 1 },
            ticks: {
              padding: 2,
              color: "rgba(0,0,0,0)",
              font: { family: SANS, size: 12, weight: "bold" },
              callback: (v: any) => Number(v).toFixed(3) + "%",
            },
          },
        },
      },
      plugins: [deco],
    } as any);

    return () => chart.destroy();
  }, []);

  return (
    <div style={{ width: W, height: H, position: "relative", overflow: "hidden" }}>
      <canvas ref={ref} width={W} height={H} style={{ display: "block", width: W, height: H }} />
    </div>
  );
}
